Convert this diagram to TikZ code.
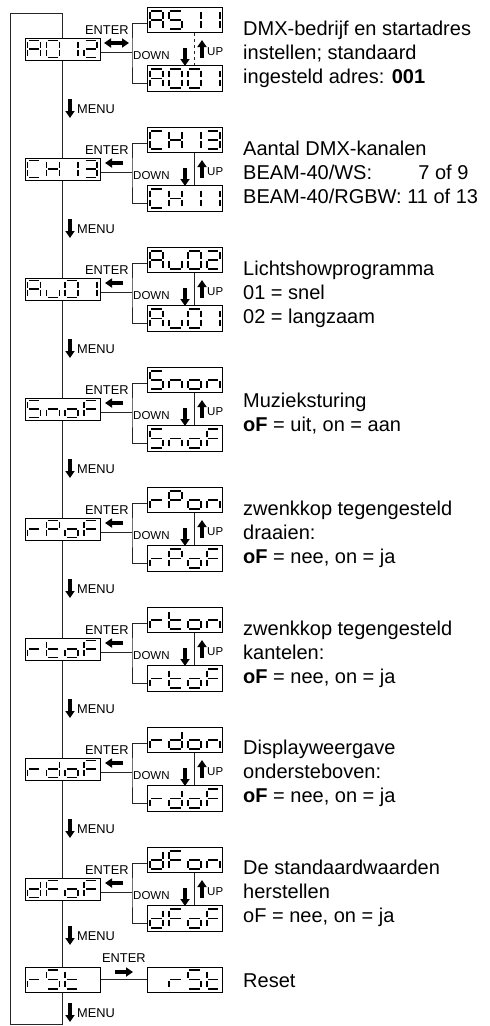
\documentclass[tikz,border=0pt]{standalone}
\usepackage{fontspec}
\setmainfont{Liberation Sans}
\usetikzlibrary{arrows.meta}

% seven-segment glyph geometry (pt): width, corner gap, height
\def\segw{13}
\def\sgap{1.3}
\def\segh{17}

\tikzset{
  segline/.style={line width=1.7pt, line cap=butt},
  dispbox/.style={draw, line width=1pt, fill=white, minimum width=75, inner sep=0},
  wire/.style={line width=0.85pt, black!85},
  fatarrow/.style={line width=3.2pt, -{Triangle[length=7pt,width=9pt]}},
  fatarrows/.style={line width=3.2pt, {Triangle[length=7pt,width=9pt]}-{Triangle[length=7pt,width=9pt]}},
  key/.style={inner sep=0, font=\fontsize{12.8}{14}\selectfont},
  smallkey/.style={inner sep=0, font=\fontsize{11.5}{13}\selectfont},
  desc/.style={inner sep=0, anchor=north west, align=left, font=\fontsize{20}{24}\selectfont},
}

% segments a..g of one cell, origin at the top left corner of the cell
\pgfkeys{
  /seg/a/.code={\draw[segline] (\sgap,0) -- (\segw-\sgap,0);},
  /seg/b/.code={\draw[segline] (\segw,\sgap) -- (\segw,\segh/2-\sgap);},
  /seg/c/.code={\draw[segline] (\segw,\segh/2+\sgap) -- (\segw,\segh-\sgap);},
  /seg/d/.code={\draw[segline] (\sgap,\segh) -- (\segw-\sgap,\segh);},
  /seg/e/.code={\draw[segline] (0,\segh/2+\sgap) -- (0,\segh-\sgap);},
  /seg/f/.code={\draw[segline] (0,\sgap) -- (0,\segh/2-\sgap);},
  /seg/g/.code={\draw[segline] (\sgap,\segh/2) -- (\segw-\sgap,\segh/2);},
  /seg/z/.code={},
}

\newcommand\defglyph[2]{\expandafter\def\csname gl#1\endcsname{#2}}
\defglyph{A}{a,b,c,e,f,g}
\defglyph{0}{a,b,c,d,e,f}
\defglyph{1}{b,c}
\defglyph{2}{a,b,g,e,d}
\defglyph{3}{a,b,g,c,d}
\defglyph{S}{a,f,g,c,d}
\defglyph{C}{a,f,e,d}
\defglyph{H}{b,c,e,f,g}
\defglyph{u}{c,d,e}
\defglyph{n}{c,e,g}
\defglyph{o}{c,d,e,g}
\defglyph{F}{a,e,f,g}
\defglyph{r}{e,g}
\defglyph{P}{a,b,e,f,g}
\defglyph{t}{d,e,f,g}
\defglyph{d}{b,c,d,e,g}
\defglyph{-}{z}

% #1 left of first cell, #2 top, #3 pitch, #4 glyph height, #5 glyph list
\newcommand\showglyphs[5]{%
  \foreach \ch [count=\k from 0] in {#5}{%
    \edef\seglist{\csname gl\ch\endcsname}%
    \begin{scope}[shift={(#1+\k*#3,#2)}]
      \def\segh{#4}%
      \foreach \s in \seglist {\pgfkeys{/seg/\s}}%
    \end{scope}}}

% #1 name, #2 centre x, #3 centre y, #4 box height, #5 glyph height, #6 glyphs
\newcommand\dispbox[6]{%
  \node[dispbox, minimum height=#4] (#1) at (#2,#3) {};
  \showglyphs{#2-35}{#3-#5/2}{18.9}{#5}{#6}}

% one menu step: #1 index, #2 top offset, #3 main, #4 upper, #5 lower display
\newcommand\menustep[5]{%
  \dispbox{m#1}{62.5}{#2+49}{22}{17}{#3}
  \dispbox{t#1}{185}{#2+20}{25.5}{18.5}{#4}
  \dispbox{b#1}{185}{#2+78.5}{25.5}{18.5}{#5}
  \coordinate (k#1) at (132,#2+52);
  \draw[wire] ([yshift=-3pt]m#1.east) -- (k#1);
  \draw[wire] ([yshift=-3pt]t#1.west) -| (k#1) |- ([yshift=-4.5pt]b#1.west);
  \node[key, anchor=base west] (enter#1) at (85,#2+34.5) {ENTER};
  \node[smallkey, anchor=base west] (down#1) at (133,#2+59) {DOWN};
  \node[smallkey, anchor=base west] (up#1) at (207,#2+55.5) {UP};
  \draw[fatarrow] (185,#2+48) -- (185,#2+66);
  \draw[fatarrow] (202,#2+58) -- (202,#2+40);
}

\begin{document}
\begin{tikzpicture}[x=1pt, y=-1pt]
\useasboundingbox (0,0) rectangle (490,1026);

\menustep{1}{0}{A,0,1,2}{A,S,1,1}{A,0,0,1}
\menustep{2}{120}{C,H,1,3}{C,H,1,3}{C,H,1,1}
\menustep{3}{240}{A,u,0,1}{A,u,0,2}{A,u,0,1}
\menustep{4}{360}{S,n,o,F}{S,n,o,n}{S,n,o,F}
\menustep{5}{480}{r,P,o,F}{r,P,o,n}{r,P,o,F}
\menustep{6}{600}{r,t,o,F}{r,t,o,n}{r,t,o,F}
\menustep{7}{720}{r,d,o,F}{r,d,o,n}{r,d,o,F}
\menustep{8}{840}{d,F,o,F}{d,F,o,n}{d,F,o,F}

% links between the upper and lower displays
\draw[wire, dashed] ([xshift=9pt]t1.south) -- ([xshift=9pt]b1.north);
\foreach \i in {2,...,8}
  \draw[wire] ([xshift=9pt]t\i.south) -- ([xshift=9pt]b\i.north);

% ENTER arrows
\draw[fatarrows] (104,43) -- (129,43);
\foreach \T in {120,240,...,840}
  \draw[fatarrow] (123,\T+43) -- (105,\T+43);

% reset step
\dispbox{m9}{62.5}{979.5}{25}{18.5}{r,S,t}
\dispbox{r9}{185}{979.5}{25}{18.5}{-,r,S,t}
\draw[wire] (m9.east) -- (r9.west);
\node[key, anchor=base west] (enter9) at (102,962.5) {ENTER};
\draw[fatarrow] (115,972) -- (133,972);

% MENU spine with its return loop
\coordinate (spinetop) at (62.5,13);
\coordinate (looptl) at (10,13);
\coordinate (loopbl) at (10,1024);
\coordinate (spinebot) at (62.5,1024);
\draw[wire] (spinetop) -- (m1.north);
\foreach \i [evaluate=\i as \j using int(\i+1)] in {1,...,8}
  \draw[wire] (m\i.south) -- (m\j.north);
\draw[wire] (m9.south) -- (spinebot) -- (loopbl) -- (looptl) -- (spinetop);

% MENU labels
\foreach \i [evaluate=\i as \T using int(120*(\i-1))] in {1,...,7}{
  \draw[fatarrow] (70,\T+99) -- (70,\T+118);
  \node[key, anchor=base west] (menu\i) at (77,\T+113) {MENU};
}
\draw[fatarrow] (70,926) -- (70,945);
\node[key, anchor=base west] (menu8) at (77,940) {MENU};
\draw[fatarrow] (70,1003) -- (70,1022);
\node[key, anchor=base west] (menu9) at (77,1017) {MENU};

% descriptions
\node[desc] (txt1) at (243,35-15) {\rule{0pt}{15pt}DMX-bedrijf en startadres\\instellen; standaard\\ingesteld adres: \textbf{001}};
\node[desc] (txt2) at (243,155-15) {\rule{0pt}{15pt}Aantal DMX-kanalen\\\setbox0\hbox{BEAM-40/RGBW:\ }\makebox[\wd0][l]{BEAM-40/WS:}\hphantom{1}7 of 9\\BEAM-40/RGBW:\ 11 of 13};
\node[desc] (txt3) at (243,275-15) {\rule{0pt}{15pt}Lichtshowprogramma\\01 = snel\\02 = langzaam};
\node[desc] (txt4) at (243,407-15) {\rule{0pt}{15pt}Muzieksturing\\\textbf{oF} = uit, on = aan};
\node[desc] (txt5) at (243,515-15) {\rule{0pt}{15pt}zwenkkop tegengesteld\\draaien:\\\textbf{oF} = nee, on = ja};
\node[desc] (txt6) at (243,635-15) {\rule{0pt}{15pt}zwenkkop tegengesteld\\kantelen:\\\textbf{oF} = nee, on = ja};
\node[desc] (txt7) at (243,754-15) {\rule{0pt}{15pt}Displayweergave\\ondersteboven:\\\textbf{oF} = nee, on = ja};
\node[desc] (txt8) at (243,874-15) {\rule{0pt}{15pt}De standaardwaarden\\herstellen\\oF = nee, on = ja};
\node[desc] (txt9) at (243,987-15) {\rule{0pt}{15pt}Reset};
\end{tikzpicture}
\end{document}
